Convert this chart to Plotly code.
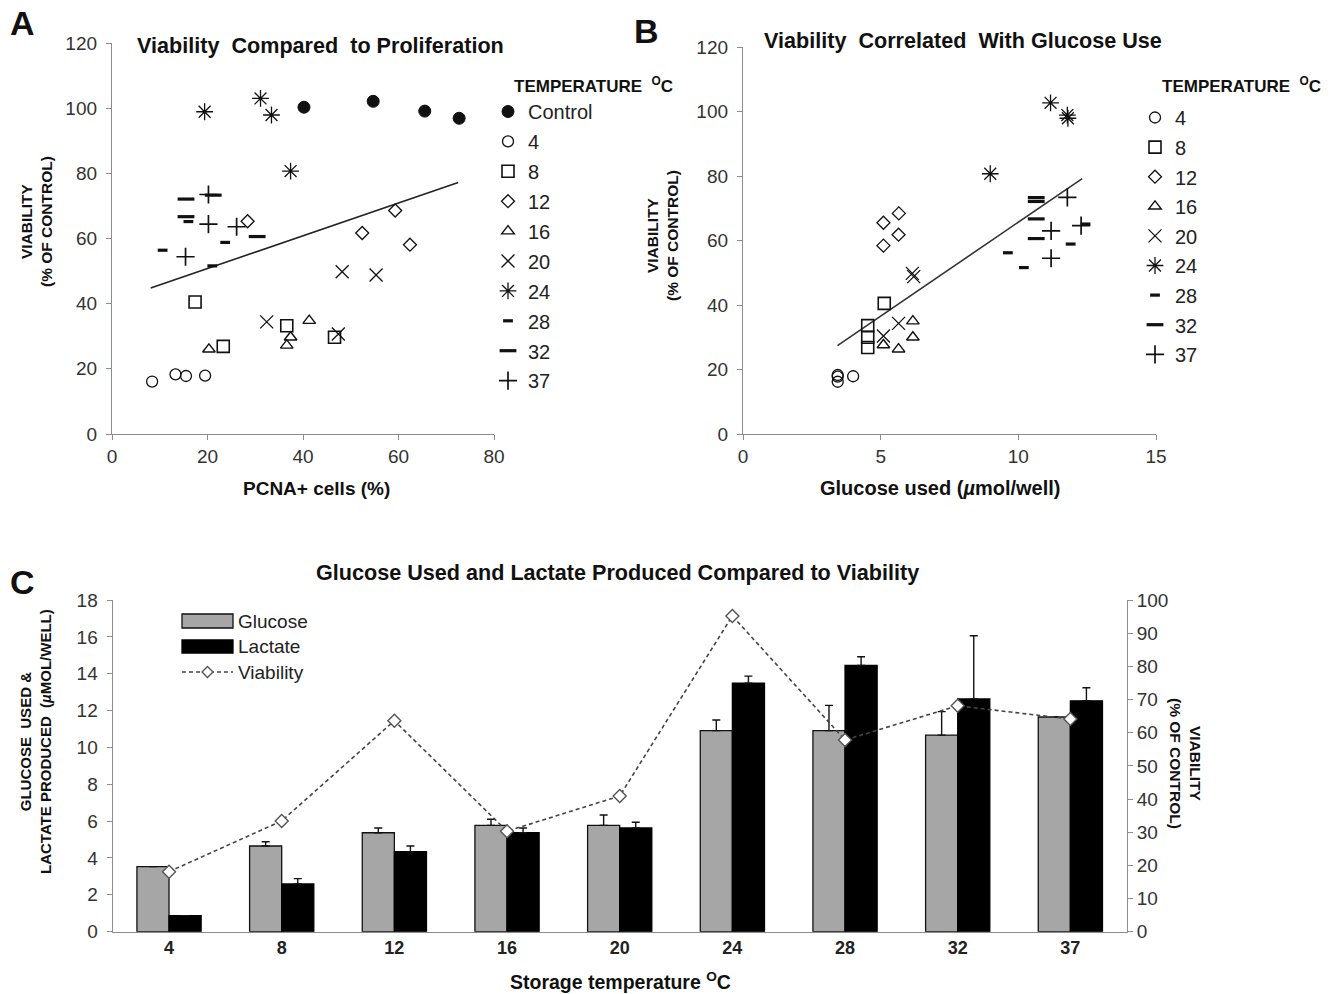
import plotly.graph_objects as go

# The page body keeps an 8px margin, so the figure is drawn 8px in from the window edge.
OFF = 8
W, H = 1326, 986

# ---------------- Data ----------------
groups_A = ["Control", "4", "8", "12", "16", "20", "24", "28", "32", "37"]
A_x = {
    "Control": [40.2, 54.7, 65.5, 72.7],
    "4": [8.4, 13.3, 15.5, 19.5],
    "8": [17.4, 23.3, 36.6, 46.6],
    "12": [28.4, 52.4, 59.3, 62.4],
    "16": [20.3, 36.6, 37.4, 41.3],
    "20": [48.2, 55.3, 32.4, 47.4],
    "24": [19.4, 31.1, 33.4, 37.4],
    "28": [10.6, 16.0, 23.7, 21.0],
    "32": [15.5, 15.5, 30.4, 21.2],
    "37": [20.2, 20.2, 26.1, 15.4],
}
A_y = {
    "Control": [100.3, 102.1, 99.1, 96.9],
    "4": [16.1, 18.3, 17.8, 17.9],
    "8": [40.5, 26.9, 33.2, 29.7],
    "12": [65.3, 61.7, 68.6, 58.1],
    "16": [26.0, 27.2, 29.7, 34.8],
    "20": [49.8, 48.8, 34.4, 30.7],
    "24": [98.9, 103.0, 97.9, 80.7],
    "28": [56.4, 65.2, 58.8, 51.6],
    "32": [72.1, 66.7, 60.6, 73.3],
    "37": [73.5, 64.4, 63.6, 54.4],
}
trend_A_x = [8.1, 72.5]
trend_A_y = [44.8, 77.2]

groups_B = ["4", "8", "12", "16", "20", "24", "28", "32", "37"]
B_x = {
    "4": [3.44, 3.44, 3.44, 4.0],
    "8": [5.13, 4.53, 4.53, 4.53],
    "12": [5.66, 5.10, 5.65, 5.10],
    "16": [5.10, 5.65, 6.17, 6.17],
    "20": [6.15, 6.20, 5.10, 5.65],
    "24": [11.17, 11.78, 11.80, 8.98],
    "28": [9.62, 10.20, 11.90, 12.44],
    "32": [10.65, 10.65, 10.65, 10.65],
    "37": [11.78, 11.19, 12.28, 11.19],
}
B_y = {
    "4": [16.2, 18.3, 17.8, 17.9],
    "8": [40.5, 33.6, 30.0, 26.8],
    "12": [68.4, 65.5, 61.8, 58.4],
    "16": [27.6, 26.3, 30.0, 35.0],
    "20": [49.8, 48.8, 30.4, 34.3],
    "24": [102.7, 98.9, 97.9, 80.7],
    "28": [56.2, 51.6, 58.9, 65.1],
    "32": [73.3, 72.1, 66.7, 60.6],
    "37": [73.4, 63.0, 64.6, 54.5],
}
trend_B_x = [3.43, 12.32]
trend_B_y = [27.4, 79.2]

temps_C = ["4", "8", "12", "16", "20", "24", "28", "32", "37"]
glucose = [3.53, 4.65, 5.37, 5.77, 5.77, 10.91, 10.91, 10.67, 11.65]
glucose_err = [0, 0.23, 0.26, 0.33, 0.56, 0.58, 1.37, 1.27, 0]
lactate = [0.87, 2.59, 4.34, 5.37, 5.63, 13.49, 14.45, 12.63, 12.53]
lactate_err = [0, 0.29, 0.31, 0.26, 0.31, 0.38, 0.47, 3.43, 0.71]
viability = [18.1, 33.4, 63.6, 30.3, 40.9, 95.2, 57.8, 68.1, 64.1]

# ---------------- Styles ----------------
sym = {"Control": "circle", "4": "circle-open", "8": "square-open", "12": "diamond-open",
       "16": "triangle-up-open", "20": "x-thin-open", "24": "asterisk-open",
       "28": "line-ew-open", "32": "line-ew-open", "37": "cross-thin-open"}
msize = {"Control": 12, "4": 11, "8": 12, "12": 10, "16": 11, "20": 13, "24": 14,
         "28": 7, "32": 12, "37": 13}
mlw = {"Control": 1, "4": 1.3, "8": 1.6, "12": 1.3, "16": 1.4, "20": 1.3, "24": 1.3,
       "28": 3.2, "32": 3.2, "37": 1.7}

def px(x):
    return (x - OFF) / W

def py(y):
    return 1 - (y - OFF) / H

FONT = "Liberation Sans, Arial, sans-serif"
AX = "#8c8c8c"
TXT = "#222222"
SP2 = "\u00a0\u00a0"

fig = go.Figure()

# Panel A
fig.add_trace(go.Scatter(x=trend_A_x, y=trend_A_y, mode="lines", line=dict(color="#222", width=1.6),
                         showlegend=False, xaxis="x", yaxis="y", hoverinfo="skip"))
for g in groups_A:
    fig.add_trace(go.Scatter(
        x=A_x[g], y=A_y[g], mode="markers", name=g, legend="legend", legendgroup="A" + g,
        marker=dict(symbol=sym[g], size=msize[g], color="#111",
                    line=dict(color="#111", width=mlw[g])),
        xaxis="x", yaxis="y"))

# Panel B
fig.add_trace(go.Scatter(x=trend_B_x, y=trend_B_y, mode="lines", line=dict(color="#333", width=1.6),
                         showlegend=False, xaxis="x2", yaxis="y2", hoverinfo="skip"))
for g in groups_B:
    fig.add_trace(go.Scatter(
        x=B_x[g], y=B_y[g], mode="markers", name=g, legend="legend2", legendgroup="B" + g,
        marker=dict(symbol=sym[g], size=msize[g], color="#111",
                    line=dict(color="#111", width=mlw[g])),
        xaxis="x2", yaxis="y2"))

# Panel C
fig.add_trace(go.Bar(x=temps_C, y=glucose, name="Glucose", showlegend=False,
                     marker=dict(color="#a6a6a6", line=dict(color="#111", width=1.3)),
                     error_y=dict(type="data", symmetric=False, array=glucose_err,
                                  arrayminus=[0] * len(glucose_err), color="#111", thickness=1.4, width=4),
                     xaxis="x3", yaxis="y3"))
fig.add_trace(go.Bar(x=temps_C, y=lactate, name="Lactate", showlegend=False,
                     marker=dict(color="#000000", line=dict(color="#000", width=1.3)),
                     error_y=dict(type="data", symmetric=False, array=lactate_err,
                                  arrayminus=[0] * len(lactate_err), color="#111", thickness=1.4, width=4),
                     xaxis="x3", yaxis="y3"))
fig.add_trace(go.Scatter(x=temps_C, y=viability, name="Viability", showlegend=False, mode="lines+markers",
                         line=dict(color="#444", width=1.6, dash="4px,3px"),
                         marker=dict(symbol="diamond", size=10, color="white", line=dict(color="#555", width=1.4)),
                         xaxis="x3", yaxis="y4"))

tickfont = dict(family=FONT, size=19, color="#333")
axis_common = dict(showline=True, linecolor=AX, linewidth=1.3, ticks="outside", ticklen=5,
                   tickcolor=AX, tickwidth=1.3, showgrid=False, zeroline=False, tickfont=tickfont)
yax_extra = dict(ticklabelstandoff=5)

fig.update_layout(
    width=W, height=H,
    margin=dict(l=0, r=0, t=0, b=0, autoexpand=False),
    paper_bgcolor="white", plot_bgcolor="rgba(0,0,0,0)",
    barmode="group", bargap=0.43, bargroupgap=0.0,
    xaxis=dict(domain=[px(112), px(494)], range=[0, 80], dtick=20, anchor="y", **axis_common),
    yaxis=dict(domain=[py(434), py(43)], range=[0, 120], dtick=20, anchor="x", **axis_common, **yax_extra),
    xaxis2=dict(domain=[px(743), px(1156)], range=[0, 15], dtick=5, anchor="y2", **axis_common),
    yaxis2=dict(domain=[py(434), py(47)], range=[0, 120], dtick=20, anchor="x2", **axis_common, **yax_extra),
    xaxis3=dict(domain=[px(112.7), px(1126.7)], type="category", range=[-0.5, 8.5], anchor="y3",
                showline=True, linecolor=AX, linewidth=1.3, ticks="", showgrid=False, zeroline=False,
                tickfont=dict(family=FONT, size=18, color="#222", weight=700)),
    yaxis3=dict(domain=[py(931.7), py(600)], range=[0, 18], dtick=2, anchor="x3", **axis_common, **yax_extra),
    yaxis4=dict(overlaying="y3", side="right", range=[0, 100], dtick=10, anchor="x3", **axis_common),
    legend=dict(x=px(488), y=py(92), xanchor="left", yanchor="top", tracegroupgap=0.9,
                font=dict(family=FONT, size=20, color=TXT), bgcolor="rgba(0,0,0,0)", itemclick=False),
    legend2=dict(x=px(1135), y=py(98), xanchor="left", yanchor="top", tracegroupgap=0.6,
                 font=dict(family=FONT, size=20, color=TXT), bgcolor="rgba(0,0,0,0)", itemclick=False),
)

ann = []

def add_text(text, x, y, size, xanchor="center", yanchor="middle", angle=0, family=FONT, color="#111", align="center"):
    ann.append(dict(text=text, x=px(x), y=py(y), xref="paper", yref="paper", showarrow=False,
                    xanchor=xanchor, yanchor=yanchor, textangle=angle, align=align,
                    font=dict(family=family, size=size, color=color)))

add_text("<b>A</b>", 22, 23, 34)
add_text("<b>B</b>", 646, 31, 34)
add_text("<b>C</b>", 22, 582, 34)

add_text("<b>Viability" + SP2 + "Compared" + SP2 + "to Proliferation</b>", 135, 46, 21.6, xanchor="left")
add_text("<b>Viability" + SP2 + "Correlated" + SP2 + "With Glucose Use</b>", 762, 40, 21.6, xanchor="left")
add_text("<b>Glucose Used and Lactate Produced Compared to Viability</b>", 617, 572, 21.6)

add_text("<b>PCNA+ cells (%)</b>", 316, 488, 19)
add_text("<b>Glucose used (<i>µ</i>mol/well)</b>", 940, 488, 20)
add_text("<b>Storage temperature <sup>O</sup>C</b>", 620, 981, 19.5)

add_text("<b>VIABILITY<br>(% OF CONTROL)</b>", 37, 222, 15.5, angle=-90)
add_text("<b>VIABILITY<br>(% OF CONTROL)</b>", 662, 236, 15.5, angle=-90)
add_text("<b>GLUCOSE" + SP2 + "USED &<br>LACTATE PRODUCED" + SP2 + "(<i>µ</i>MOL/WELL)</b>", 35, 742, 15, angle=-90)
add_text("<b>VIABILITY<br>(% OF CONTROL)</b>", 1186, 763, 15.5, angle=90)

add_text("<b>TEMPERATURE" + SP2 + "<sup>O</sup>C</b>", 512, 85, 17, xanchor="left")
add_text("<b>TEMPERATURE" + SP2 + "<sup>O</sup>C</b>", 1160, 85, 17, xanchor="left")

# manual legend for panel C
add_text("Glucose", 236, 621, 19, xanchor="left", color=TXT)
add_text("Lactate", 236, 646, 19, xanchor="left", color=TXT)
add_text("Viability", 236, 672, 19, xanchor="left", color=TXT)

shapes = [
    dict(type="rect", xref="paper", yref="paper", x0=px(182), x1=px(233), y0=py(628), y1=py(614),
         fillcolor="#a6a6a6", line=dict(color="#111", width=1.3)),
    dict(type="rect", xref="paper", yref="paper", x0=px(182), x1=px(233), y0=py(653), y1=py(640),
         fillcolor="#000", line=dict(color="#000", width=1.3)),
    dict(type="line", xref="paper", yref="paper", x0=px(182), x1=px(233), y0=py(672), y1=py(672),
         line=dict(color="#444", width=1.6, dash="4px,3px")),
    dict(type="path", xref="paper", yref="paper", xsizemode="pixel", ysizemode="pixel",
         xanchor=px(207.5), yanchor=py(672), path="M0,5.5 L5.5,0 L0,-5.5 L-5.5,0 Z",
         fillcolor="white", line=dict(color="#555", width=1.4)),
]

fig.update_layout(annotations=ann, shapes=shapes)
fig.write_html("out.html")
